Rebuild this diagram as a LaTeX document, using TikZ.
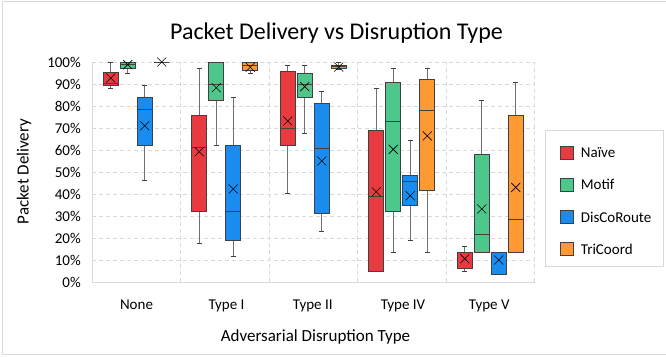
\documentclass[tikz,border=0pt]{standalone}
\usepackage{fontspec}
\setmainfont{Carlito}
\usetikzlibrary{positioning}
\definecolor{NaiveRed}{RGB}{232, 58, 63}
\definecolor{MotifGreen}{RGB}{78, 199, 138}
\definecolor{RouteBlue}{RGB}{26, 140, 240}
\definecolor{TriOrange}{RGB}{255, 153, 51}
\definecolor{GridGray}{RGB}{217, 217, 217}
\definecolor{TextGray}{RGB}{89, 89, 89}
\definecolor{EdgeGray}{RGB}{64, 64, 64}

% one box: x, low, q1, median, q3, high, mean, colour
\newcommand{\pdbox}[8]{%
    \draw[whisker] (#1,#2) -- (#1,#3) (#1,#5) -- (#1,#6);
    \draw[whiskercap] ([xshift=-2.5pt]#1,#2) -- ([xshift=2.5pt]#1,#2)
        ([xshift=-2.5pt]#1,#6) -- ([xshift=2.5pt]#1,#6);
    \filldraw[boxbody, fill=#8] ([xshift=-7.5pt]#1,#3) rectangle ([xshift=7.5pt]#1,#5);
    \draw[medianline] ([xshift=-7.5pt]#1,#4) -- ([xshift=7.5pt]#1,#4);
    \draw[meanmark] ([shift={(-4.5pt,-4.5pt)}]#1,#7) -- ([shift={(4.5pt,4.5pt)}]#1,#7)
        ([shift={(-4.5pt,4.5pt)}]#1,#7) -- ([shift={(4.5pt,-4.5pt)}]#1,#7);
}

\begin{document}
\begin{tikzpicture}[
        x=1pt, y=1pt,
        font=\color{TextGray},
        grid/.style={draw=GridGray, line width=0.75pt, dash pattern=on 4pt off 3pt},
        axisline/.style={draw=GridGray, line width=0.9pt},
        whisker/.style={draw=EdgeGray!75, line width=0.9pt},
        whiskercap/.style={draw=EdgeGray, line width=0.9pt},
        boxbody/.style={draw=EdgeGray, line width=0.8pt},
        medianline/.style={draw=EdgeGray, line width=0.9pt},
        meanmark/.style={draw=black, line width=0.6pt},
        ticklabel/.style={anchor=east, inner sep=0pt, font=\fontsize{15}{18}\selectfont},
        catlabel/.style={anchor=base, inner sep=0pt, font=\fontsize{15}{18}\selectfont},
        axistitle/.style={inner sep=0pt, font=\fontsize{17}{20}\selectfont},
        charttitle/.style={anchor=base, inner sep=0pt, font=\fontsize{24}{28}\selectfont},
        legkey/.style={draw=EdgeGray, line width=0.8pt, minimum size=13pt, inner sep=0pt},
        legtext/.style={inner sep=0pt, font=\fontsize{15}{18}\selectfont}
    ]
    \useasboundingbox (0,0) rectangle (666,356);
    \draw[GridGray, line width=0.75pt] (2.7,1.5) rectangle (670,354.5);

    \node[charttitle] (title) at (336.5,316) {Packet Delivery vs Disruption Type};

    \begin{scope}[yshift=74pt, y=2.2pt]
        % grid
        \foreach \v in {10,20,...,100}
            \draw[grid] (92,\v) -- (534.5,\v);
        \foreach \gx in {180.5,269,357.5,446,534.5}
            \draw[grid] (\gx,0) -- (\gx,100);
        \draw[axisline] (92,100) -- (92,0) -- (534.5,0);
        \foreach \v in {0,10,...,100}
            \node[ticklabel] (tick-\v) at (81,\v) {\v\%};

        % boxes
        \foreach \cx/\lo/\qa/\md/\qb/\hi/\mn/\col in {
            110.75/88/89.5/90.3/95.3/100/92.7/NaiveRed,
            127.75/95/97/99/100/100/98.8/MotifGreen,
            144.75/46/62.1/78.3/83.8/89.5/71/RouteBlue,
            161.75/100/100/100/100/100/100/TriOrange,
            199.25/17.4/32/61/75.6/97.1/59.2/NaiveRed,
            216.25/62.1/82.4/89.7/100/100/88.3/MotifGreen,
            233.25/11.8/18.8/32.1/62.1/83.8/42.3/RouteBlue,
            250.25/95/96/98.5/100/100/97.6/TriOrange,
            287.75/40.3/62.1/69.9/95.6/98.5/73.2/NaiveRed,
            304.75/67.4/83.8/89.7/94.7/98.5/88.8/MotifGreen,
            321.75/22.9/31/60.9/81.2/86.5/55/RouteBlue,
            338.75/96.5/97.1/98/98.6/100/97.7/TriOrange,
            376.25/5/5/39.1/68.8/87.9/41/NaiveRed,
            393.25/13.3/32/72.9/90.6/97/60.3/MotifGreen,
            410.25/18.8/34.8/45.6/48.3/64.5/39.2/RouteBlue,
            427.25/13.3/41.7/78.2/92/97/66.4/TriOrange,
            464.75/5/6.2/6.2/13.3/16/10.6/NaiveRed,
            481.75/13.3/13.3/21.7/58/82.4/33.2/MotifGreen,
            498.75/3.6/3.6/3.6/13.3/13.3/10/RouteBlue,
            515.75/13.3/13.3/28.3/75.6/90.8/43/TriOrange}
            {\pdbox{\cx}{\lo}{\qa}{\md}{\qb}{\hi}{\mn}{\col}}
    \end{scope}

    % category labels
    \foreach \cx/\nm/\txt in {136.5/none/None, 226.5/typei/Type I, 312.75/typeii/Type II,
                              403/typeiv/Type IV, 489.25/typev/Type V}
        \node[catlabel] (cat-\nm) at (\cx,47) {\txt};

    \node[axistitle, anchor=base] (xtitle) at (315.5,14.5) {Adversarial Disruption Type};
    \node[axistitle, rotate=90] (ytitle) at (24,184.5) {Packet Delivery};

    % legend
    \draw[GridGray, line width=0.75pt] (545,90) rectangle (663.3,225.3);
    \node[legkey, fill=NaiveRed] (key-naive) at (567.3,203.3) {};
    \node[legkey, fill=MotifGreen, below=18.3pt of key-naive] (key-motif) {};
    \node[legkey, fill=RouteBlue, below=18.3pt of key-motif] (key-route) {};
    \node[legkey, fill=TriOrange, below=18.3pt of key-route] (key-tri) {};
    \node[legtext, right=6.5pt of key-naive] (txt-naive) {Naïve};
    \node[legtext, right=6.5pt of key-motif] (txt-motif) {Motif};
    \node[legtext, right=6.5pt of key-route] (txt-route) {DisCoRoute};
    \node[legtext, right=6.5pt of key-tri] (txt-tri) {TriCoord};
\end{tikzpicture}
\end{document}
